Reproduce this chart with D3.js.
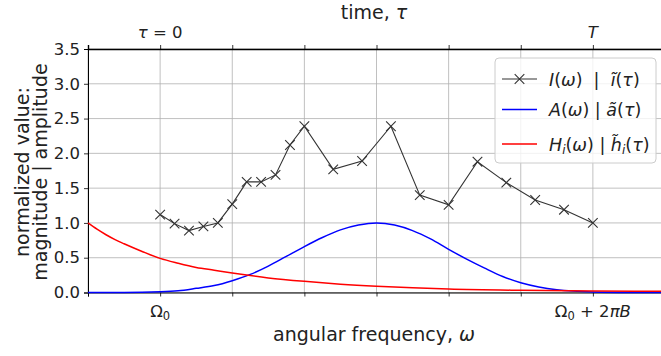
<!DOCTYPE html>
<html>
<head>
<meta charset="utf-8">
<script src="https://cdn.jsdelivr.net/npm/d3@7"></script>
<style>
  body { margin: 0; background: #fff; }
  text { font-family: "DejaVu Sans", sans-serif; fill: #222; }
</style>
</head>
<body>
<div id="chart"></div>
<script>
// x is in tick units, Omega_0 = 0, Omega_0 + 2*pi*B = 6
const intensityX = [0, 0.2, 0.4, 0.6, 0.8, 1.0, 1.2, 1.4, 1.6, 1.8, 2.0, 2.4, 2.8, 3.2, 3.6, 4.0, 4.4, 4.8, 5.2, 5.6, 6.0];
const intensityY = [1.12, 0.99, 0.89, 0.95, 1.0, 1.27, 1.59, 1.59, 1.69, 2.12, 2.39, 1.77, 1.89, 2.39, 1.4, 1.26, 1.88, 1.58, 1.33, 1.19, 1.0];

const amplitudeX = [-1, -0.5, 0, 0.25, 0.5, 0.75, 1.0, 1.25, 1.5, 1.75, 2.0, 2.25, 2.5, 2.75, 3.0, 3.25, 3.5, 3.75, 4.0, 4.25, 4.5, 4.75, 5.0, 5.25, 5.5, 6.0, 6.5, 7.0];
const amplitudeY = [0, 0, 0.01, 0.025, 0.06, 0.1, 0.17, 0.26, 0.38, 0.52, 0.66, 0.79, 0.9, 0.97, 1.0, 0.97, 0.89, 0.77, 0.62, 0.48, 0.35, 0.23, 0.14, 0.08, 0.04, 0.008, 0.001, 0];

const responseX = [-1, -0.875, -0.75, -0.625, -0.5, -0.25, 0, 0.25, 0.5, 0.75, 1.0, 1.5, 2.0, 2.5, 3.0, 3.5, 4.0, 5.0, 6.0, 7.0];
const responseY = [1.0, 0.91, 0.83, 0.76, 0.7, 0.59, 0.49, 0.42, 0.36, 0.32, 0.28, 0.21, 0.16, 0.12, 0.09, 0.067, 0.05, 0.032, 0.022, 0.016];

const xTicks = [-1, 0, 1, 2, 3, 4, 5, 6];
const yTicks = [0, 0.5, 1.0, 1.5, 2.0, 2.5, 3.0, 3.5];

const width = 661, height = 356;
const margin = { top: 49, right: -4, bottom: 63.5, left: 88 };

const svg = d3.select("#chart")
  .append("svg")
  .attr("width", width)
  .attr("height", height);

const x = d3.scaleLinear().domain([-1, 7]).range([margin.left, width - margin.right]);
const y = d3.scaleLinear().domain([0, 3.5]).range([height - margin.bottom, margin.top]);

// grid
svg.append("g")
  .selectAll("line")
  .data(xTicks)
  .enter().append("line")
  .attr("x1", d => x(d)).attr("x2", d => x(d))
  .attr("y1", y(0)).attr("y2", y(3.5))
  .attr("stroke", "#b0b0b0").attr("stroke-width", 0.8);

svg.append("g")
  .selectAll("line")
  .data(yTicks)
  .enter().append("line")
  .attr("x1", x(-1)).attr("x2", width)
  .attr("y1", d => y(d)).attr("y2", d => y(d))
  .attr("stroke", "#b0b0b0").attr("stroke-width", 0.8);

// axes
const xBottom = svg.append("g")
  .attr("transform", `translate(0,${y(0)})`)
  .call(d3.axisBottom(x).tickValues(xTicks).tickSize(4).tickFormat(""));
const xTop = svg.append("g")
  .attr("transform", `translate(0,${y(3.5)})`)
  .call(d3.axisTop(x).tickValues(xTicks).tickSize(4).tickFormat(""));
const yLeft = svg.append("g")
  .attr("transform", `translate(${x(-1)},0)`)
  .call(d3.axisLeft(y).tickValues(yTicks).tickSize(4).tickFormat(d3.format(".1f")));

[xBottom, xTop, yLeft].forEach(g => {
  g.select(".domain").attr("stroke", "#000").attr("stroke-width", 1);
  g.selectAll(".tick line").attr("stroke", "#000").attr("stroke-width", 0.8);
});
xTop.select(".domain").attr("stroke-width", 1.4);
yLeft.selectAll(".tick text")
  .attr("font-size", 16.5).attr("x", -8).attr("fill", "#222")
  .style("font-family", "DejaVu Sans");

// bottom tick labels (mathtext style)
const om0 = svg.append("text").attr("x", x(0)).attr("y", y(0) + 24)
  .attr("text-anchor", "middle").attr("font-size", 16.5);
om0.append("tspan").text("Ω");
om0.append("tspan").attr("font-size", 11.5).attr("dy", 3).text("0");

const om1 = svg.append("text").attr("x", x(6)).attr("y", y(0) + 24)
  .attr("text-anchor", "middle").attr("font-size", 16.5);
om1.append("tspan").text("Ω");
om1.append("tspan").attr("font-size", 11.5).attr("dy", 3).text("0");
om1.append("tspan").attr("dy", -3).text("\u00a0+\u00a02");
om1.append("tspan").attr("font-style", "italic").text("πB");

// top tick labels
const t0 = svg.append("text").attr("x", x(0)).attr("y", y(3.5) - 11)
  .attr("text-anchor", "middle").attr("font-size", 16.5);
t0.append("tspan").attr("font-style", "italic").text("τ");
t0.append("tspan").text("\u00a0=\u00a00");
svg.append("text").attr("x", x(6)).attr("y", y(3.5) - 11)
  .attr("text-anchor", "middle").attr("font-size", 16.5)
  .attr("font-style", "italic").text("T");

// axis titles
const xl = svg.append("text").attr("x", 374).attr("y", 341)
  .attr("text-anchor", "middle").attr("font-size", 19);
xl.append("tspan").text("angular frequency, ");
xl.append("tspan").attr("font-style", "italic").text("ω");

const tl = svg.append("text").attr("x", 374).attr("y", 19)
  .attr("text-anchor", "middle").attr("font-size", 19);
tl.append("tspan").text("time, ");
tl.append("tspan").attr("font-style", "italic").text("τ");

svg.append("text")
  .attr("transform", `translate(28.5,172) rotate(-90)`)
  .attr("text-anchor", "middle").attr("font-size", 19)
  .text("normalized value:");
svg.append("text")
  .attr("transform", `translate(46.5,172) rotate(-90)`)
  .attr("text-anchor", "middle").attr("font-size", 19)
  .text("magnitude | amplitude");

// curves
const plot = svg.append("g");
const line = d3.line().x(d => x(d[0])).y(d => y(d[1]));
const smooth = d3.line().curve(d3.curveMonotoneX).x(d => x(d[0])).y(d => y(d[1]));

plot.append("path")
  .datum(d3.zip(amplitudeX, amplitudeY))
  .attr("d", smooth)
  .attr("fill", "none").attr("stroke", "#0000ff").attr("stroke-width", 1.5);

plot.append("path")
  .datum(d3.zip(responseX, responseY))
  .attr("d", smooth)
  .attr("fill", "none").attr("stroke", "#ff0000").attr("stroke-width", 1.5);

const pts = d3.zip(intensityX, intensityY);
plot.append("path")
  .datum(pts)
  .attr("d", line)
  .attr("fill", "none").attr("stroke", "#333").attr("stroke-width", 1.1);

const m = 4.8;
plot.selectAll(".mk")
  .data(pts)
  .enter().append("path")
  .attr("class", "mk")
  .attr("d", d => {
    const cx = x(d[0]), cy = y(d[1]);
    return `M${cx - m},${cy - m}L${cx + m},${cy + m}M${cx - m},${cy + m}L${cx + m},${cy - m}`;
  })
  .attr("stroke", "#333").attr("stroke-width", 1.1);

// legend
const lg = svg.append("g").attr("transform", "translate(495,58)");
lg.append("rect")
  .attr("width", 161).attr("height", 105).attr("rx", 4)
  .attr("fill", "#fff").attr("fill-opacity", 0.8)
  .attr("stroke", "#ccc").attr("stroke-width", 1);

const rows = [
  { color: "#333", marker: true, y: 21 },
  { color: "#0000ff", marker: false, y: 51.5 },
  { color: "#ff0000", marker: false, y: 86 }
];
rows.forEach(r => {
  lg.append("line").attr("x1", 7).attr("x2", 42).attr("y1", r.y).attr("y2", r.y)
    .attr("stroke", r.color).attr("stroke-width", r.marker ? 1.1 : 1.5);
  if (r.marker) {
    lg.append("path")
      .attr("d", `M${24.5 - m},${r.y - m}L${24.5 + m},${r.y + m}M${24.5 - m},${r.y + m}L${24.5 + m},${r.y - m}`)
      .attr("stroke", r.color).attr("stroke-width", 1.1);
  }
});

const fs = 17.5;
const l1 = lg.append("text").attr("x", 54).attr("y", 21 + 6.5).attr("font-size", fs);
l1.append("tspan").attr("font-style", "italic").text("I");
l1.append("tspan").text("(");
l1.append("tspan").attr("font-style", "italic").text("ω");
l1.append("tspan").text(")\u00a0\u00a0|\u00a0\u00a0");
l1.append("tspan").attr("font-style", "italic").text("ĩ");
l1.append("tspan").text("(");
l1.append("tspan").attr("font-style", "italic").text("τ");
l1.append("tspan").text(")");

const l2 = lg.append("text").attr("x", 54).attr("y", 51.5 + 6.5).attr("font-size", fs);
l2.append("tspan").attr("font-style", "italic").text("A");
l2.append("tspan").text("(");
l2.append("tspan").attr("font-style", "italic").text("ω");
l2.append("tspan").text(")\u00a0|\u00a0");
l2.append("tspan").attr("font-style", "italic").text("ã");
l2.append("tspan").text("(");
l2.append("tspan").attr("font-style", "italic").text("τ");
l2.append("tspan").text(")");

const l3 = lg.append("text").attr("x", 54).attr("y", 86 + 6.5).attr("font-size", fs);
l3.append("tspan").attr("font-style", "italic").text("H");
l3.append("tspan").attr("font-style", "italic").attr("font-size", 12).attr("dy", 3).text("i");
l3.append("tspan").attr("dy", -3).text("(");
l3.append("tspan").attr("font-style", "italic").text("ω");
l3.append("tspan").text(")\u00a0|\u00a0");
l3.append("tspan").attr("font-style", "italic").text("h\u0303");
l3.append("tspan").attr("font-style", "italic").attr("font-size", 12).attr("dy", 3).text("i");
l3.append("tspan").attr("dy", -3).text("(");
l3.append("tspan").attr("font-style", "italic").text("τ");
l3.append("tspan").text(")");
</script>
</body>
</html>
